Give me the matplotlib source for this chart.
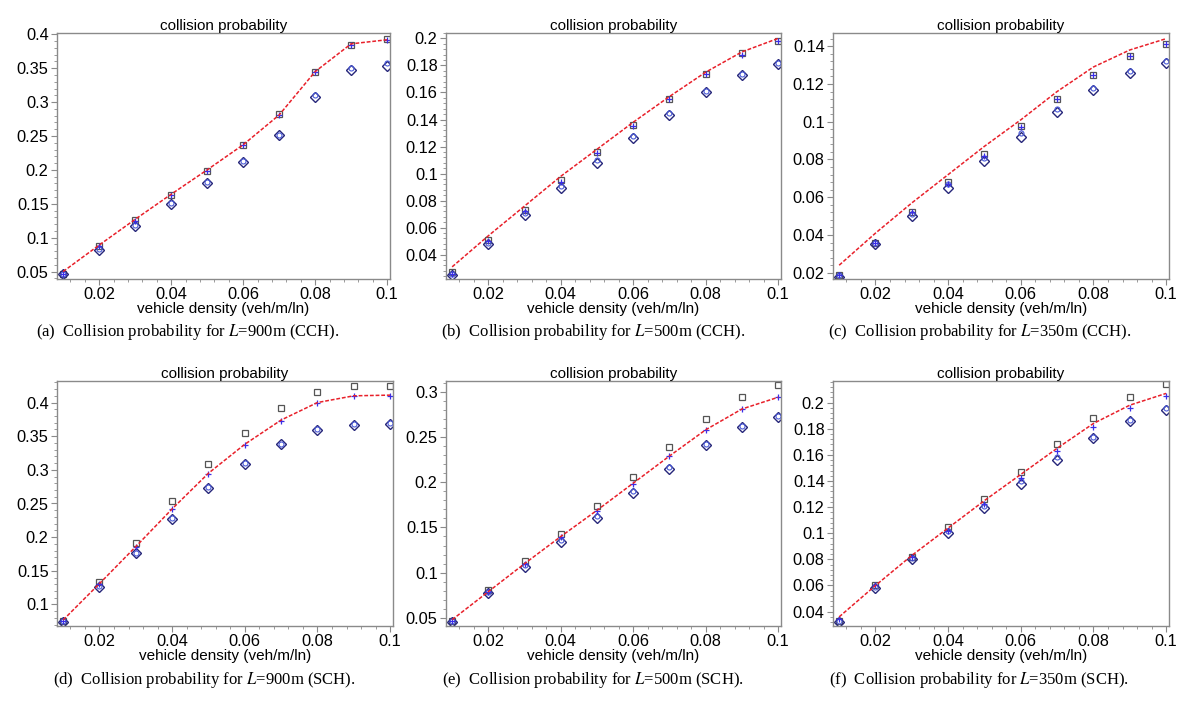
import numpy as np
import matplotlib
matplotlib.use('Agg')
import matplotlib.pyplot as plt
from matplotlib.ticker import AutoMinorLocator, MultipleLocator

plt.rcParams['font.family'] = ['Liberation Sans', 'DejaVu Sans']
plt.rcParams['mathtext.fontset'] = 'stix'

# vehicle density (veh/m/ln)
density = [0.01, 0.02, 0.03, 0.04, 0.05, 0.06, 0.07, 0.08, 0.09, 0.10]

# (a) L=900m CCH
line_a = [0.050, 0.089, 0.127, 0.164, 0.200, 0.237, 0.281, 0.345, 0.386, 0.392]
sq_a = [0.047, 0.088, 0.126, 0.163, 0.199, 0.237, 0.282, 0.345, 0.385, 0.393]
plus_a = [0.047, 0.087, 0.125, 0.163, 0.199, 0.236, 0.281, 0.344, 0.384, 0.392]
dia_a = [0.046, 0.082, 0.117, 0.150, 0.181, 0.212, 0.251, 0.308, 0.347, 0.354]
circ_a = [0.047, 0.084, 0.119, 0.151, 0.182, 0.213, 0.252, 0.311, 0.351, 0.358]

# (b) L=500m CCH
line_b = [0.031, 0.054, 0.076, 0.098, 0.118, 0.138, 0.157, 0.175, 0.190, 0.200]
sq_b = [0.027, 0.051, 0.073, 0.095, 0.116, 0.136, 0.155, 0.174, 0.189, 0.198]
plus_b = [0.026, 0.050, 0.072, 0.094, 0.115, 0.135, 0.155, 0.174, 0.188, 0.198]
dia_b = [0.025, 0.048, 0.069, 0.089, 0.108, 0.126, 0.143, 0.160, 0.173, 0.181]
circ_b = [0.026, 0.049, 0.071, 0.091, 0.110, 0.128, 0.145, 0.161, 0.174, 0.182]

# (c) L=350m CCH
line_c = [0.024, 0.041, 0.057, 0.072, 0.087, 0.101, 0.116, 0.129, 0.138, 0.144]
sq_c = [0.019, 0.036, 0.052, 0.068, 0.083, 0.098, 0.112, 0.125, 0.135, 0.141]
plus_c = [0.019, 0.036, 0.052, 0.067, 0.082, 0.097, 0.112, 0.125, 0.135, 0.141]
dia_c = [0.018, 0.035, 0.050, 0.065, 0.079, 0.092, 0.105, 0.117, 0.126, 0.131]
circ_c = [0.019, 0.036, 0.051, 0.067, 0.081, 0.094, 0.107, 0.118, 0.127, 0.132]

# (d) L=900m SCH
line_d = [0.077, 0.131, 0.186, 0.242, 0.295, 0.338, 0.374, 0.400, 0.410, 0.411]
sq_d = [0.075, 0.134, 0.191, 0.253, 0.308, 0.355, 0.392, 0.415, 0.424, 0.425]
plus_d = [0.075, 0.131, 0.185, 0.242, 0.294, 0.337, 0.373, 0.400, 0.409, 0.410]
dia_d = [0.074, 0.126, 0.176, 0.227, 0.273, 0.309, 0.338, 0.359, 0.367, 0.368]
circ_d = [0.075, 0.127, 0.177, 0.228, 0.274, 0.310, 0.339, 0.360, 0.368, 0.369]

# (e) L=500m SCH
line_e = [0.048, 0.079, 0.110, 0.140, 0.169, 0.199, 0.229, 0.258, 0.281, 0.294]
sq_e = [0.046, 0.081, 0.113, 0.143, 0.174, 0.206, 0.239, 0.270, 0.294, 0.308]
plus_e = [0.047, 0.079, 0.110, 0.139, 0.168, 0.198, 0.229, 0.258, 0.281, 0.294]
dia_e = [0.045, 0.077, 0.106, 0.134, 0.161, 0.188, 0.215, 0.241, 0.261, 0.272]
circ_e = [0.046, 0.079, 0.108, 0.136, 0.163, 0.190, 0.217, 0.242, 0.262, 0.273]

# (f) L=350m SCH
line_f = [0.036, 0.060, 0.083, 0.104, 0.125, 0.145, 0.165, 0.184, 0.198, 0.207]
sq_f = [0.033, 0.060, 0.082, 0.105, 0.126, 0.147, 0.168, 0.188, 0.204, 0.214]
plus_f = [0.034, 0.060, 0.082, 0.102, 0.122, 0.142, 0.163, 0.181, 0.196, 0.205]
dia_f = [0.032, 0.058, 0.080, 0.100, 0.119, 0.138, 0.156, 0.173, 0.186, 0.194]
circ_f = [0.033, 0.059, 0.081, 0.102, 0.121, 0.140, 0.158, 0.174, 0.187, 0.196]

captions = ['(a)  Collision probability for $L$=900m (CCH).',
            '(b)  Collision probability for $L$=500m (CCH).',
            '(c)  Collision probability for $L$=350m (CCH).',
            '(d)  Collision probability for $L$=900m (SCH).',
            '(e)  Collision probability for $L$=500m (SCH).',
            '(f)  Collision probability for $L$=350m (SCH).']

W, H = 1200, 716
# axes boxes in pixels: left, right, top, bottom
boxes = [(57, 390, 33, 279), (446, 781, 33, 279), (833, 1169, 33, 279),
         (57, 393, 381, 626), (446, 781, 381, 626), (833, 1169, 381, 626)]
ylims = [(0.039, 0.402), (0.022, 0.204), (0.0167, 0.147),
         (0.068, 0.432), (0.041, 0.312), (0.029, 0.2165)]
ysteps = [0.05, 0.02, 0.02, 0.05, 0.05, 0.02]
cap_x = [188, 593, 980, 204, 593, 979]
cap_y = [332, 332, 332, 680, 680, 680]

data = [(line_a, sq_a, plus_a, dia_a, circ_a),
        (line_b, sq_b, plus_b, dia_b, circ_b),
        (line_c, sq_c, plus_c, dia_c, circ_c),
        (line_d, sq_d, plus_d, dia_d, circ_d),
        (line_e, sq_e, plus_e, dia_e, circ_e),
        (line_f, sq_f, plus_f, dia_f, circ_f)]

def fmt(v, pos):
    return '%g' % round(v, 4)

fig = plt.figure(figsize=(12, 7.16), dpi=100)
for i in range(6):
    l, r, t, b = boxes[i]
    ax = fig.add_axes([l / W, 1 - b / H, (r - l) / W, (b - t) / H])
    line, sq, plus, dia, circ = data[i]
    ax.plot(density, sq, 's', mfc='none', mec='#555555', ms=5, mew=0.9)
    ax.plot(density, dia, 'D', mfc='none', mec='#26267a', ms=4.8, mew=1.0)
    ax.plot(density, circ, 'o', mfc='none', mec='#4a5ad8', ms=3.6, mew=0.8)
    ax.plot(density, plus, '+', color='#3a2ee8', ms=5, mew=0.9)
    ax.plot(density, line, '--', color='#e8202a', lw=1.1, dashes=(2.5, 1.2))
    ax.set_xlim(0.0083, 0.1008)
    ax.set_ylim(*ylims[i])
    ax.xaxis.set_major_locator(MultipleLocator(0.02))
    ax.yaxis.set_major_locator(MultipleLocator(ysteps[i]))
    ax.xaxis.set_minor_locator(AutoMinorLocator(5))
    ax.yaxis.set_minor_locator(AutoMinorLocator(5))
    ax.xaxis.set_major_formatter(plt.FuncFormatter(fmt))
    ax.yaxis.set_major_formatter(plt.FuncFormatter(fmt))
    for sp in ax.spines.values():
        sp.set_color('#8a8a8a')
        sp.set_linewidth(1.0)
    ax.tick_params(which='major', length=4, width=0.8, color='#8a8a8a',
                   labelsize=11.8, pad=2)
    ax.tick_params(axis='x', which='major', pad=1.5)
    ax.tick_params(which='minor', length=2, width=0.6, color='#8a8a8a')
    ax.set_title('collision probability', fontsize=11, pad=2)
    ax.set_xlabel('vehicle density (veh/m/ln)', fontsize=11, labelpad=0)
    fig.text(cap_x[i] / W, 1 - cap_y[i] / H, captions[i], ha='center', va='center',
             fontsize=12, family='Liberation Serif')

fig.savefig('out.png', dpi=100)
